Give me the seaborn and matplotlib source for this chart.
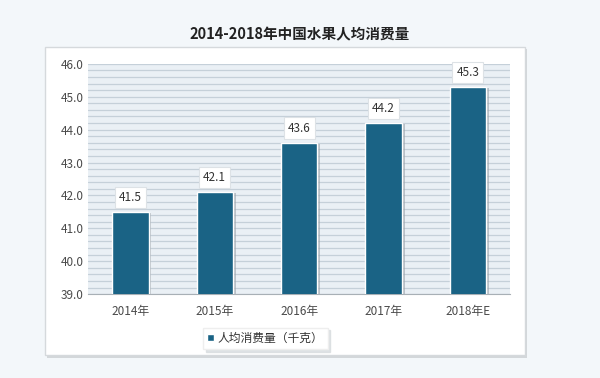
import pandas as pd
import seaborn as sns
import matplotlib.pyplot as plt
from matplotlib.patches import Rectangle
import numpy as np

years = ['2014年', '2015年', '2016年', '2017年', '2018年E']
values = [41.5, 42.1, 43.6, 44.2, 45.3]
series_name = '人均消费量（千克）'

df = pd.DataFrame({'year': years, 'value': values})

sns.set_style('white')
plt.rcParams['font.family'] = ['Noto Sans CJK SC', 'DejaVu Sans']

fig = plt.figure(figsize=(6, 3.78), dpi=100)
fig.patch.set_facecolor('#f3f7fa')

# white panel with soft shadow
fig.patches.append(Rectangle((0.079, 0.053), 0.80, 0.818, transform=fig.transFigure,
                             facecolor='#d3d7da', edgecolor='none', zorder=-10))
fig.patches.append(Rectangle((0.075, 0.061), 0.80, 0.815, transform=fig.transFigure,
                             facecolor='white', edgecolor='#d5d9dc', lw=1, zorder=-9))

fig.suptitle('2014-2018年中国水果人均消费量', y=0.93, fontsize=10.5, fontweight='bold', color='#222222')

ax = fig.add_axes([0.147, 0.222, 0.703, 0.609])
ax.set_zorder(1)
ax.set_facecolor('#eaf0f5')

ymin = 39.0
bar_color = '#1a6385'
sns.barplot(data=df, x='year', y='value', color=bar_color, saturation=1, width=0.43, ax=ax,
            zorder=3, label=series_name)

# bar shadows
for p in list(ax.patches):
    x, w, h = p.get_x(), p.get_width(), p.get_height()
    ax.add_patch(Rectangle((x + 0.035, ymin), w, h - ymin - 0.04, facecolor='#9aa3aa',
                           edgecolor='none', alpha=0.6, zorder=2))

ax.set_ylim(ymin, 46.0)
ax.set_yticks(np.arange(39, 46.5, 1.0))
ax.set_yticklabels([f'{v:.1f}' for v in np.arange(39, 46.5, 1.0)])
ax.set_yticks(np.arange(39, 46.01, 0.2), minor=True)
ax.yaxis.grid(True, which='both', color='#c5d0d9', lw=0.9, zorder=0)
ax.set_axisbelow(True)

for s in ['top', 'right', 'left']:
    ax.spines[s].set_visible(False)
ax.spines['bottom'].set_color('#a8b0b6')
ax.tick_params(axis='both', which='both', length=0, labelsize=8.5, colors='#4a4a4a')
ax.tick_params(axis='x', pad=8)
ax.set_xlabel('')
ax.set_ylabel('')

for i, v in enumerate(values):
    ax.text(i, v + 0.25, f'{v:.1f}', ha='center', va='bottom', fontsize=8.5, color='#333333',
            zorder=5, bbox=dict(boxstyle='square,pad=0.35', facecolor='white', edgecolor='#dde2e6', lw=0.8))

leg = ax.legend(loc='upper center', bbox_to_anchor=(0.42, -0.12), frameon=True, fontsize=8.5,
                handlelength=0.6, handleheight=0.6, handletextpad=0.3, borderpad=0.35,
                fancybox=False, shadow={'color': '#d8dcdf', 'alpha': 0.8})
leg.get_frame().set_edgecolor('#eeeeee')
for t in leg.get_texts():
    t.set_color('#333333')

fig.savefig('out.png', dpi=100, facecolor=fig.get_facecolor())
